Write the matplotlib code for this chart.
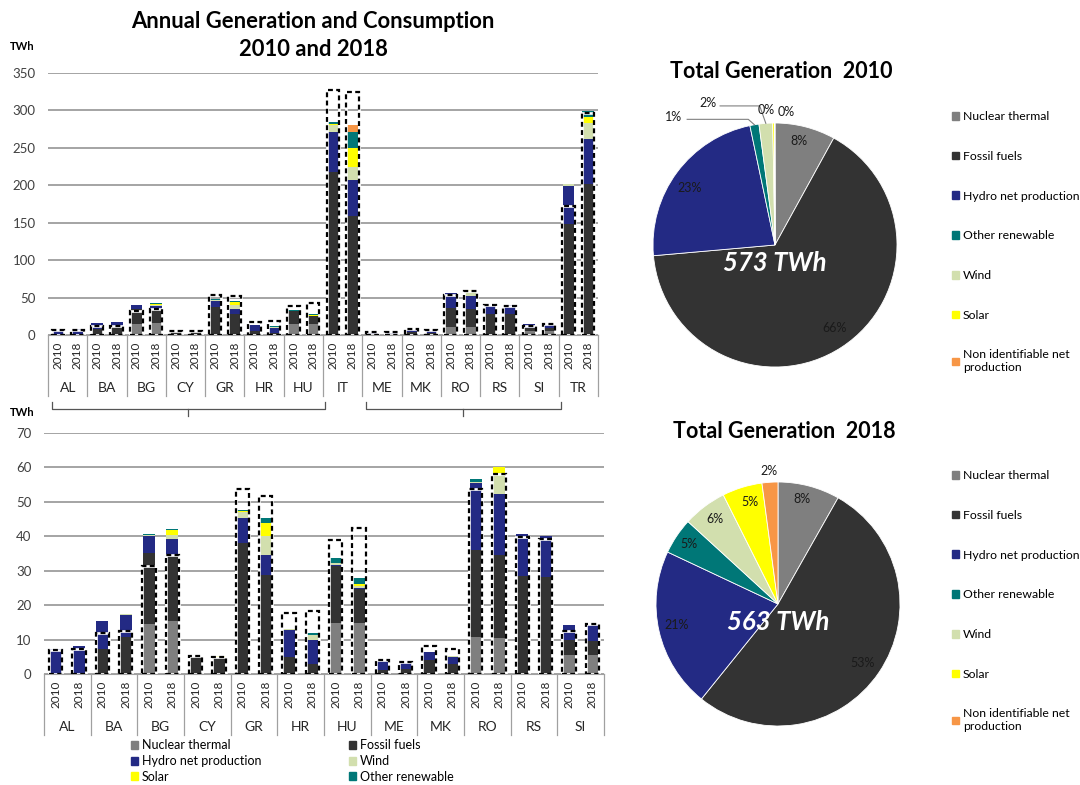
import numpy as np
import matplotlib
matplotlib.use("Agg")
import matplotlib.pyplot as plt
import matplotlib.transforms as mtrans
from matplotlib.patches import Patch

plt.rcParams['font.family'] = ['Lato', 'DejaVu Sans']

countries = ["AL", "BA", "BG", "CY", "GR", "HR", "HU", "IT", "ME", "MK", "RO", "RS", "SI", "TR"]
years = ["2010", "2018"]

# TWh per country, [2010, 2018]
nuclear = [[0, 0], [0, 0], [14.5, 15.5], [0, 0], [0, 0], [0, 0], [14.9, 14.8], [0, 0],
           [0, 0], [0, 0], [10.7, 10.4], [0, 0], [5.4, 5.5], [0, 0]]
fossil = [[0, 0], [7.4, 10.7], [20.6, 19.0], [5.3, 4.9], [38.0, 28.7], [4.8, 3.0], [16.5, 10.0],
          [217.5, 158.5], [1.2, 1.4], [4.0, 3.0], [25.2, 24.2], [28.4, 28.1], [4.6, 4.0], [147.7, 202.3]]
hydro = [[7.3, 8.0], [8.1, 6.5], [4.9, 4.7], [0, 0], [7.3, 5.9], [8.1, 7.0], [0.2, 0.2],
         [54.2, 48.3], [2.9, 1.9], [2.4, 2.0], [19.6, 17.8], [12.2, 12.1], [4.2, 4.8], [51.0, 59.1]]
wind = [[0, 0], [0, 0.1], [0.5, 1.3], [0, 0], [1.7, 5.6], [0.2, 1.2], [0.5, 0.6],
        [9.0, 17.0], [0, 0], [0, 0.3], [0.3, 5.9], [0, 0], [0, 0], [2.9, 22.4]]
solar = [[0, 0], [0, 0], [0, 1.3], [0, 0.2], [0.2, 3.7], [0, 0.1], [0, 0.5],
         [0.8, 25.5], [0, 0], [0, 0], [0, 1.7], [0, 0], [0, 0.2], [0, 7.2]]
other_ren = [[0, 0], [0, 0], [0.1, 0.4], [0, 0], [0.3, 1.5], [0.1, 0.7], [1.6, 1.7],
             [3.2, 22.4], [0, 0], [0, 0], [0.7, 0.2], [0, 0], [0, 0], [0.6, 7.6]]
non_ident = [[0, 0], [0, 0], [0, 0], [0, 0], [0, 0], [0, 0], [0, 0],
             [0, 9.0], [0, 0], [0, 0], [0, 0], [0, 0], [0, 0.1], [0, 0.5]]
consumption = [[7.0, 7.2], [11.8, 12.6], [31.5, 34.5], [5.1, 4.8], [53.6, 51.7], [17.7, 18.3],
               [39.0, 42.4], [326.8, 324.5], [4.2, 3.4], [8.2, 7.2], [53.6, 58.2], [39.8, 39.3],
               [12.4, 14.4], [172.0, 297.0]]

# pie shares (%) in order: nuclear, fossil, hydro, other renewable, wind, solar, non identifiable
pie_2010 = [8.0, 65.6, 23.1, 1.2, 1.8, 0.25, 0.05]
pie_2018 = [8.2, 52.6, 21.2, 4.8, 5.8, 5.3, 2.1]
total_2010, total_2018 = 573, 563

C_NUC, C_FOS, C_HYD = "#7f7f7f", "#333333", "#232a84"
C_OTH, C_WIND, C_SOL, C_NON = "#007777", "#d2dfae", "#ffff00", "#f79646"
stack = [("Nuclear thermal", nuclear, C_NUC), ("Fossil fuels", fossil, C_FOS),
         ("Hydro net production", hydro, C_HYD), ("Wind", wind, C_WIND),
         ("Solar", solar, C_SOL), ("Other renewable", other_ren, C_OTH),
         ("Non identifiable net production", non_ident, C_NON)]

W, H = 1080, 785
fig = plt.figure(figsize=(W / 100, H / 100), dpi=100)


def px_axes(x0, y0, x1, y1):
    return fig.add_axes([x0 / W, 1 - y1 / H, (x1 - x0) / W, (y1 - y0) / H])


def draw_bars(ax, idx, width, ymax, step, sep_len, year_pad, name_y):
    n = len(idx)
    x = np.arange(2 * n) + 0.5
    bottom = np.zeros(2 * n)
    for name, arr, col in stack:
        vals = np.array([arr[i] for i in idx], dtype=float).ravel()
        ax.bar(x, vals, width, bottom=bottom, color=col, lw=0, zorder=2)
        bottom += vals
    cons = np.array([consumption[i] for i in idx], dtype=float).ravel()
    ax.bar(x, cons, width + 0.04, fill=False, edgecolor="white", lw=1.9, zorder=3)
    ax.bar(x, cons, width + 0.04, fill=False, edgecolor="black", lw=1.6,
           ls=(0, (2.2, 1.5)), zorder=4)
    ax.set_xlim(0, 2 * n)
    ax.set_ylim(0, ymax)
    ax.set_yticks(np.arange(0, ymax + 1, step))
    ax.yaxis.grid(True, color="#8c8c8c", lw=1.1)
    ax.set_axisbelow(True)
    for s in ["top", "right", "left"]:
        ax.spines[s].set_visible(False)
    ax.spines["bottom"].set_color("#a0a0a0")
    ax.tick_params(axis="y", length=0, labelsize=9.5, labelcolor="#404040", pad=9)
    ax.set_xticks(x)
    ax.set_xticklabels(years * n, rotation=90, fontsize=8.5, color="#262626")
    ax.tick_params(axis="x", length=0, pad=year_pad)
    tr = mtrans.blended_transform_factory(ax.transData, ax.transAxes)
    for i in range(n + 1):
        ax.plot([2 * i, 2 * i], [0, -sep_len], transform=tr, color="#a0a0a0", lw=0.9, clip_on=False)
    for k, i in enumerate(idx):
        ax.text(2 * k + 1, -name_y, countries[i], transform=tr, ha="center", va="center",
                fontsize=10, color="#262626")
    return tr


# ---------- top bar chart: all countries ----------
ax1 = px_axes(48, 73, 598, 335)
top_idx = list(range(len(countries)))
tr1 = draw_bars(ax1, top_idx, 0.6, 350, 50, 61 / 262, 5, 53 / 262)
# brackets showing the countries zoomed in below
for g0, g1 in [(0, 7), (8, 13)]:
    xa, xb = 2 * g0 + 0.2, 2 * g1 + 0.1
    ya, yb = -67 / 262, -74 / 262
    ax1.plot([xa, xa, xb, xb], [ya, yb, yb, ya], transform=tr1, color="#555555", lw=0.9, clip_on=False)
    xm = (xa + xb) / 2
    ax1.plot([xm, xm], [yb, -81 / 262], transform=tr1, color="#555555", lw=0.9, clip_on=False)

# ---------- bottom bar chart: without IT and TR ----------
ax2 = px_axes(44, 433, 604, 674)
bot_idx = [i for i, c in enumerate(countries) if c not in ("IT", "TR")]
draw_bars(ax2, bot_idx, 0.52, 70, 10, 61 / 241, 5, 53 / 241)

handles = {name: Patch(color=col) for name, _, col in stack}
order = ["Nuclear thermal", "Hydro net production", "Solar", "Fossil fuels", "Wind", "Other renewable"]
fig.legend([handles[o] for o in order], order, loc="upper left", bbox_to_anchor=(125 / W, 1 - 733 / H),
           ncol=2, frameon=False, fontsize=9, handlelength=0.55, handleheight=0.6, handletextpad=0.3,
           labelspacing=0.3, columnspacing=7.0, borderpad=0)

fig.text(313 / W, 1 - 22 / H, "Annual Generation and Consumption", ha="center", va="center",
         fontsize=15.8, fontweight="bold")
fig.text(313 / W, 1 - 50 / H, "2010 and 2018", ha="center", va="center", fontsize=15.8, fontweight="bold")
fig.text(22 / W, 1 - 47 / H, "TWh", ha="center", va="center", fontsize=8, fontweight="bold")
fig.text(22 / W, 1 - 413 / H, "TWh", ha="center", va="center", fontsize=8, fontweight="bold")

# ---------- pies ----------
pie_colors = [C_NUC, C_FOS, C_HYD, C_OTH, C_WIND, C_SOL, C_NON]
pie_names = ["Nuclear thermal", "Fossil fuels", "Hydro net production", "Other renewable",
             "Wind", "Solar", "Non identifiable net\nproduction"]
R = 122


def draw_pie(cx, cy, vals, total, title, title_x, title_y, lab_pos, leaders, leg_y):
    ax = px_axes(cx - 1.6 * R, cy - 1.6 * R, cx + 1.6 * R, cy + 1.6 * R)
    wedges, _ = ax.pie(vals, colors=pie_colors, startangle=90, counterclock=False, radius=1,
                       wedgeprops=dict(edgecolor="white", lw=0.6))
    ax.set_xlim(-1.6, 1.6)
    ax.set_ylim(-1.6, 1.6)
    ax.set_aspect("equal")
    for k, (v, (lx, ly)) in enumerate(zip(vals, lab_pos)):
        ax.text(lx, ly, f"{round(v):.0f}%", ha="center", va="center", fontsize=9, color="#1a1a1a")
    for k, (lx, ly) in leaders.items():
        w = wedges[k]
        a = np.deg2rad((w.theta1 + w.theta2) / 2)
        ex, ey = np.cos(a), np.sin(a)
        ax.plot([lx, ex - 0.05, ex], [ly, ly, ey], color="#808080", lw=0.8)
    ax.text(0, -0.15, f"{total} TWh", ha="center", va="center", fontsize=18.5, color="white",
            fontweight="bold", style="italic")
    fig.text(title_x / W, 1 - title_y / H, title, ha="center", va="center", fontsize=15.5, fontweight="bold")
    fig.legend([Patch(color=c) for c in pie_colors], pie_names, loc="upper left",
               bbox_to_anchor=(946 / W, 1 - leg_y / H), frameon=False, fontsize=8.8,
               handlelength=0.6, handleheight=0.6, handletextpad=0.3, labelspacing=2.35, borderpad=0)


draw_pie(775, 245, pie_2010, total_2010, "Total Generation  2010", 781, 72,
         [(0.20, 0.85), (0.49, -0.68), (-0.70, 0.47), (-0.83, 1.05), (-0.55, 1.16),
          (-0.07, 1.11), (0.09, 1.09)],
         {3: (-0.72, 1.03), 4: (-0.45, 1.14)}, 105)
draw_pie(778, 604, pie_2018, total_2018, "Total Generation  2018", 784, 432,
         [(0.20, 0.86), (0.69, -0.48), (-0.83, -0.17), (-0.73, 0.49), (-0.52, 0.70),
          (-0.23, 0.84), (-0.07, 1.09)],
         {}, 464)

fig.savefig("out.png", dpi=100)
